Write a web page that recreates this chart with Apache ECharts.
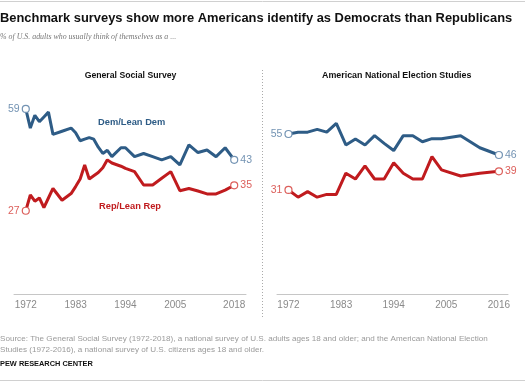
<!DOCTYPE html>
<html>
<head>
<meta charset="utf-8">
<script src="https://cdn.jsdelivr.net/npm/echarts@6/dist/echarts.min.js"></script>
<style>html,body{margin:0;padding:0;background:#fff}#c{width:525px;height:383px}</style>
</head>
<body>
<div id="c"></div>
<script>
// ---- data ----
var gssYears = [1972,1973,1974,1975,1976,1977,1978,1980,1982,1983,1984,1985,1986,1987,1988,1989,1990,1991,1993,1994,1996,1998,2000,2002,2004,2006,2008,2010,2012,2014,2016,2018];
var gssDem = [59,53,57,55,56.5,58,51,52,53,51.5,49,49.5,50,49.5,47,45,46,44,46.8,46.8,44,45,44,43,44,41.4,47.7,45.3,46.1,44,46.8,43];
var gssRep = [27,32,30,31,28,31,34,30.3,32.4,34.6,37,41.4,37,38,39,40.5,43,42,41,40.3,39.3,35.1,35.1,37.2,39.3,33.3,34,33.2,32.3,32.3,33.5,35];
var anesYears = [1972,1974,1976,1978,1980,1982,1984,1986,1988,1990,1992,1994,1996,1998,2000,2002,2004,2008,2012,2016];
var anesDem = [55,55.8,55.8,57,55.8,59.6,50.3,52.9,50.3,54.3,51,47.9,54.3,54.3,51.7,53,53,54.3,49.1,46];
var anesRep = [31,27.9,30.3,27.9,29.1,29.1,38.2,35.7,41.3,35.7,35.7,42.7,38.2,35.7,35.7,45.3,39.6,37,38.2,39];
var gssTicks = [1972,1983,1994,2005,2018];
var anesTicks = [1972,1983,1994,2005,2016];

var DEM = '#2e5c86', REP = '#c01b1e';
var DEM_L = '#7393b3', REP_L = '#dc5f5b';
var FONT = 'Liberation Sans, Arial, sans-serif';

function build(years, vals, xi, line, light) {
  var last = years.length - 1;
  var data = years.map(function (y, i) {
    var end = (i === 0 || i === last);
    return {
      value: [y, vals[i]],
      symbol: end ? 'circle' : 'none',
      label: { show: end, position: i === 0 ? 'left' : 'right' }
    };
  });
  return {
    type: 'line', xAxisIndex: xi, yAxisIndex: xi, data: data,
    showSymbol: true, symbolSize: 7, z: 3,
    lineStyle: { color: line, width: 3 },
    itemStyle: { color: '#fff', borderColor: light, borderWidth: 1.2 },
    label: { distance: 2, color: light, fontSize: 10.5, fontFamily: FONT,
      formatter: function (p) { return String(Math.round(p.value[1])); } },
    emphasis: { disabled: true },
    animation: false
  };
}

function xAxis(grid, min, max, ticks) {
  return {
    type: 'value', gridIndex: grid, min: min, max: max,
    axisLine: { show: true, onZero: false, lineStyle: { color: '#c6c6c6', width: 1 } },
    axisTick: { show: false }, splitLine: { show: false },
    axisLabel: { customValues: ticks, color: '#8a8a8a', fontSize: 10, fontFamily: FONT, margin: 6,
      formatter: function (v) { return String(v); } }
  };
}

var chart = echarts.init(document.getElementById('c'), null, { renderer: 'canvas' });
chart.setOption({
  animation: false,
  grid: [
    { left: 14, top: 100, width: 232, height: 194 },
    { left: 277, top: 100, width: 231, height: 194 }
  ],
  xAxis: [xAxis(0, 1969.4, 2020.6, gssTicks), xAxis(1, 1969.6, 2017.9, anesTicks)],
  yAxis: [
    { type: 'value', gridIndex: 0, min: 0.82, max: 61.82, show: false },
    { type: 'value', gridIndex: 1, min: -13.65, max: 69.6, show: false }
  ],
  series: [
    build(gssYears, gssDem, 0, DEM, DEM_L),
    build(gssYears, gssRep, 0, REP, REP_L),
    build(anesYears, anesDem, 1, DEM, DEM_L),
    build(anesYears, anesRep, 1, REP, REP_L)
  ],
  graphic: [
    { type: 'line', shape: { x1: 0, y1: 1.5, x2: 525, y2: 1.5 }, style: { stroke: '#d0d0d0', lineWidth: 1 } },
    { type: 'line', shape: { x1: 0, y1: 380.5, x2: 525, y2: 380.5 }, style: { stroke: '#d0d0d0', lineWidth: 1 } },
    { type: 'text', left: 0, top: 11.5, style: { text: 'Benchmark surveys show more Americans identify as Democrats than Republicans', font: 'bold 12.9px ' + FONT, fill: '#111' } },
    { type: 'text', left: 0, top: 32.5, style: { text: '% of U.S. adults who usually think of themselves as a ...', font: 'italic 7.9px "Liberation Serif", "DejaVu Serif", serif', fill: '#777' } },
    { type: 'text', x: 130.5, y: 76, style: { text: 'General Social Survey', font: 'bold 8.7px ' + FONT, fill: '#111', align: 'center', verticalAlign: 'middle' } },
    { type: 'text', x: 396.7, y: 76, style: { text: 'American National Election Studies', font: 'bold 8.9px ' + FONT, fill: '#111', align: 'center', verticalAlign: 'middle' } },
    { type: 'text', x: 131.7, y: 122.7, style: { text: 'Dem/Lean Dem', font: 'bold 9.3px ' + FONT, fill: DEM, align: 'center', verticalAlign: 'middle' } },
    { type: 'text', x: 130, y: 206, style: { text: 'Rep/Lean Rep', font: 'bold 9.3px ' + FONT, fill: REP, align: 'center', verticalAlign: 'middle' } },
    { type: 'line', shape: { x1: 262.5, y1: 70, x2: 262.5, y2: 317 }, style: { stroke: '#aaaaaa', lineWidth: 1, lineDash: [1, 2] } },
    { type: 'text', left: 0, top: 332.5, style: { text: 'Source: The General Social Survey (1972-2018), a national survey of U.S. adults ages 18 and older; and the American National Election\nStudies (1972-2016), a national survey of U.S. citizens ages 18 and older.', font: '8.1px ' + FONT, fill: '#9a9a9a', lineHeight: 11.6 } },
    { type: 'text', left: 0, top: 360, style: { text: 'PEW RESEARCH CENTER', font: 'bold 7.4px ' + FONT, fill: '#111' } }
  ]
});
</script>
</body>
</html>
